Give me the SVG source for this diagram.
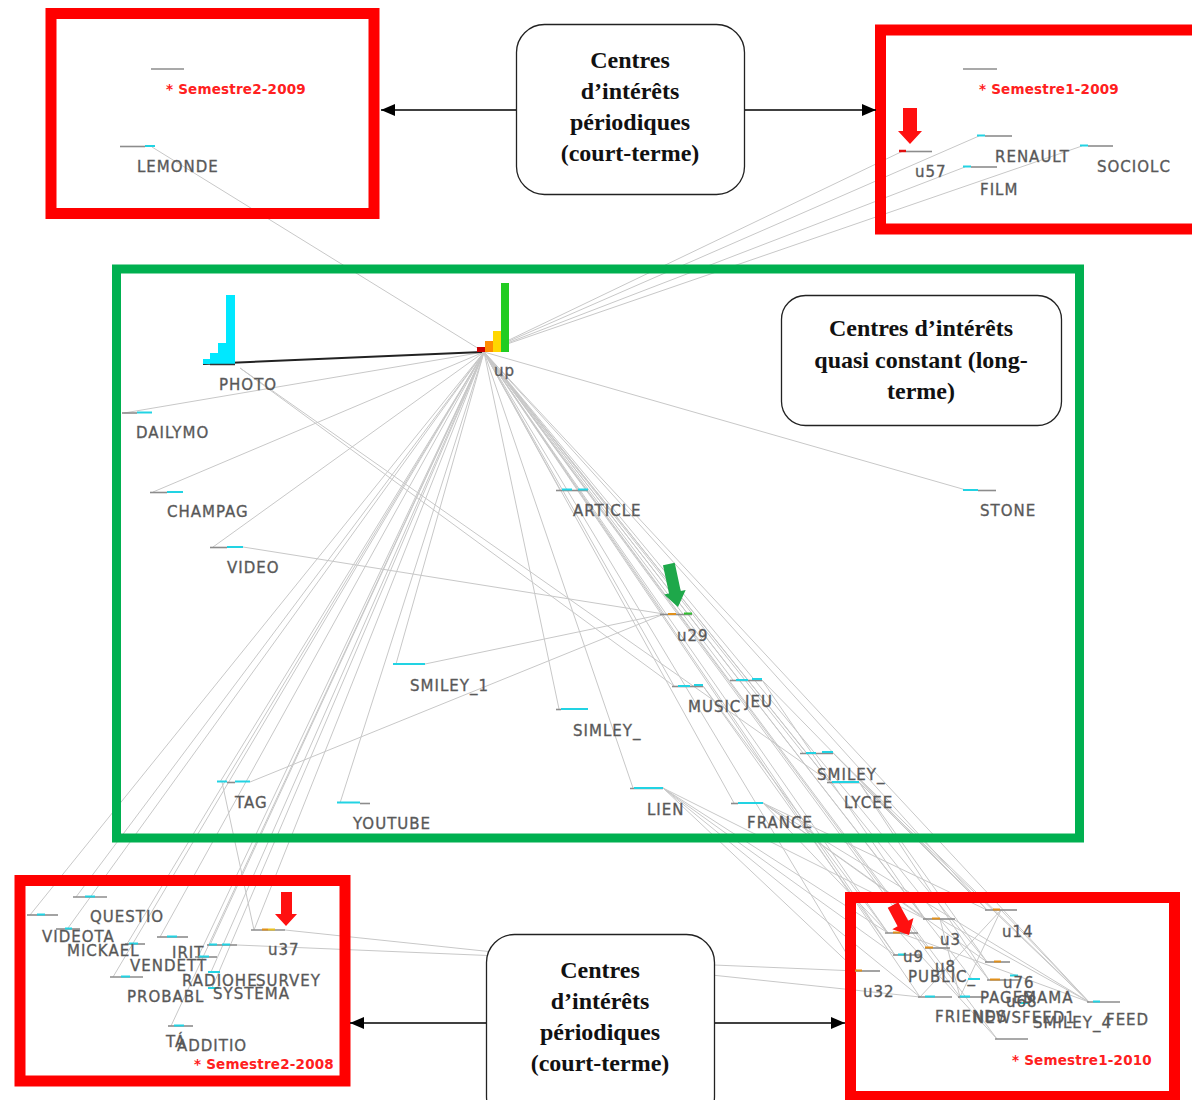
<svg xmlns="http://www.w3.org/2000/svg" width="1192" height="1100" viewBox="0 0 1192 1100">
<style>
.e{stroke:#c8c8c8;stroke-width:1;fill:none}
.lbl{font-family:"DejaVu Sans",sans-serif;font-size:15px;fill:#555;stroke:#666;stroke-width:0.35;letter-spacing:1px}
.sem{font-family:"DejaVu Sans",sans-serif;font-size:13.5px;font-weight:bold;fill:#ff2020;letter-spacing:0.2px}
.co{font-family:"Liberation Serif","Times New Roman",serif;font-weight:bold;font-size:24px;fill:#111;text-anchor:middle}
.frR{fill:none;stroke:#ff0000;stroke-width:11}
.frG{fill:none;stroke:#00b050;stroke-width:9}
.call{fill:#fff;stroke:#222;stroke-width:1.3}
.mg{stroke:#8c8c8c;stroke-width:1.6}
.mc{stroke:#22d3e3;stroke-width:2}
.mo{stroke:#e0901c;stroke-width:2}
.ar{stroke:#000;stroke-width:1.6;fill:none}
</style>
<defs>
<marker id="ah" viewBox="0 0 14 12" refX="14" refY="6" markerWidth="14" markerHeight="12" markerUnits="userSpaceOnUse" orient="auto"><path d="M0,0 L14,6 L0,12 z" fill="#000"/></marker>
</defs>
<rect width="1192" height="1100" fill="#fff"/>
<g id="connectors">
<line class="e" x1="484" y1="352" x2="152" y2="147"/>
<line class="e" x1="484" y1="352" x2="903" y2="151"/>
<line class="e" x1="484" y1="352" x2="979" y2="136"/>
<line class="e" x1="484" y1="352" x2="965" y2="167"/>
<line class="e" x1="484" y1="352" x2="1082" y2="146"/>
<line class="e" x1="484" y1="352" x2="124" y2="413"/>
<line class="e" x1="484" y1="352" x2="153" y2="492"/>
<line class="e" x1="484" y1="352" x2="213" y2="547"/>
<line class="e" x1="484" y1="352" x2="966" y2="490"/>
<line class="e" x1="484" y1="352" x2="560" y2="490"/>
<line class="e" x1="484" y1="352" x2="559" y2="709"/>
<line class="e" x1="484" y1="352" x2="633" y2="788"/>
<line class="e" x1="484" y1="352" x2="734" y2="803"/>
<line class="e" x1="484" y1="352" x2="674" y2="686"/>
<line class="e" x1="484" y1="352" x2="733" y2="680"/>
<line class="e" x1="484" y1="352" x2="803" y2="753"/>
<line class="e" x1="484" y1="352" x2="830" y2="782"/>
<line class="e" x1="484" y1="352" x2="396" y2="664"/>
<line class="e" x1="484" y1="352" x2="220" y2="782"/>
<line class="e" x1="484" y1="352" x2="340" y2="803"/>
<line class="e" x1="484" y1="352" x2="664" y2="614"/>
<line class="e" x1="484" y1="352" x2="76" y2="897"/>
<line class="e" x1="484" y1="352" x2="30" y2="915"/>
<line class="e" x1="484" y1="352" x2="68" y2="928"/>
<line class="e" x1="484" y1="352" x2="127" y2="944"/>
<line class="e" x1="484" y1="352" x2="160" y2="937"/>
<line class="e" x1="484" y1="352" x2="113" y2="977"/>
<line class="e" x1="484" y1="352" x2="210" y2="945"/>
<line class="e" x1="484" y1="352" x2="198" y2="957"/>
<line class="e" x1="484" y1="352" x2="211" y2="972"/>
<line class="e" x1="484" y1="352" x2="212" y2="988"/>
<line class="e" x1="484" y1="352" x2="171" y2="1026"/>
<line class="e" x1="484" y1="352" x2="254" y2="930"/>
<line class="e" x1="484" y1="352" x2="888" y2="933"/>
<line class="e" x1="484" y1="352" x2="925" y2="919"/>
<line class="e" x1="484" y1="352" x2="987" y2="910"/>
<line class="e" x1="484" y1="352" x2="927" y2="948"/>
<line class="e" x1="484" y1="352" x2="895" y2="955"/>
<line class="e" x1="484" y1="352" x2="857" y2="971"/>
<line class="e" x1="484" y1="352" x2="987" y2="962"/>
<line class="e" x1="484" y1="352" x2="972" y2="979"/>
<line class="e" x1="484" y1="352" x2="989" y2="980"/>
<line class="e" x1="484" y1="352" x2="920" y2="997"/>
<line class="e" x1="484" y1="352" x2="960" y2="997"/>
<line class="e" x1="484" y1="352" x2="1089" y2="1002"/>
<line class="e" x1="484" y1="352" x2="997" y2="1039"/>
<line class="e" x1="240" y1="368" x2="674" y2="686"/>
<line class="e" x1="240" y1="368" x2="830" y2="782"/>
<line class="e" x1="250" y1="782" x2="664" y2="614"/>
<line class="e" x1="425" y1="664" x2="664" y2="614"/>
<line class="e" x1="243" y1="547" x2="664" y2="614"/>
<line class="e" x1="663" y1="788" x2="888" y2="933"/>
<line class="e" x1="663" y1="788" x2="925" y2="919"/>
<line class="e" x1="663" y1="788" x2="895" y2="955"/>
<line class="e" x1="663" y1="788" x2="857" y2="971"/>
<line class="e" x1="663" y1="788" x2="920" y2="997"/>
<line class="e" x1="763" y1="803" x2="888" y2="933"/>
<line class="e" x1="763" y1="803" x2="925" y2="919"/>
<line class="e" x1="763" y1="803" x2="987" y2="910"/>
<line class="e" x1="763" y1="803" x2="987" y2="962"/>
<line class="e" x1="763" y1="803" x2="1089" y2="1002"/>
<line class="e" x1="859" y1="782" x2="987" y2="910"/>
<line class="e" x1="859" y1="782" x2="987" y2="962"/>
<line class="e" x1="859" y1="782" x2="1089" y2="1002"/>
<line class="e" x1="859" y1="782" x2="989" y2="980"/>
<line class="e" x1="833" y1="753" x2="987" y2="910"/>
<line class="e" x1="833" y1="753" x2="1089" y2="1002"/>
<line class="e" x1="762" y1="680" x2="925" y2="919"/>
<line class="e" x1="762" y1="680" x2="987" y2="910"/>
<line class="e" x1="703" y1="686" x2="888" y2="933"/>
<line class="e" x1="703" y1="686" x2="895" y2="955"/>
<line class="e" x1="1001" y1="910" x2="920" y2="997"/>
<line class="e" x1="1001" y1="910" x2="960" y2="997"/>
<line class="e" x1="1001" y1="910" x2="1089" y2="1002"/>
<line class="e" x1="940" y1="919" x2="1089" y2="1002"/>
<line class="e" x1="940" y1="919" x2="960" y2="997"/>
<line class="e" x1="900" y1="933" x2="1089" y2="1002"/>
<line class="e" x1="900" y1="933" x2="997" y2="1039"/>
<line class="e" x1="237" y1="945" x2="857" y2="971"/>
<line class="e" x1="285" y1="930" x2="920" y2="997"/>
<line class="e" x1="254" y1="930" x2="222" y2="782"/>
<line x1="203" y1="364" x2="482" y2="352" stroke="#222" stroke-width="2"/>
</g>
<g id="frames">
<rect class="frR" x="51" y="13.5" width="323" height="200"/>
<rect class="frR" x="880.5" y="30" width="330" height="199"/>
<rect class="frG" x="116.5" y="269" width="963" height="569"/>
<rect class="frR" x="20" y="880.5" width="325" height="200.5"/>
<rect class="frR" x="850.5" y="897.5" width="324" height="199"/>
</g>
<g id="n-sem2-2009"><line class="mg" x1="151" y1="69" x2="184" y2="69"/><text class="sem" x="166" y="94">* Semestre2-2009</text></g>
<g id="n-lemonde"><line class="mg" x1="120" y1="146.5" x2="145" y2="146.5"/><line class="mc" x1="145" y1="146" x2="155" y2="146"/><text class="lbl" x="137" y="172">LEMONDE</text></g>
<g id="n-sem1-2009"><line class="mg" x1="963" y1="69" x2="997" y2="69"/><text class="sem" x="979" y="94">* Semestre1-2009</text></g>
<g id="n-u57"><line x1="899" y1="151" x2="906" y2="151" stroke="#e01010" stroke-width="2.5"/><line class="mg" x1="906" y1="151.5" x2="932" y2="151.5"/><text class="lbl" x="915" y="177">u57</text></g>
<g id="n-renault"><line class="mc" x1="977" y1="135.5" x2="985" y2="135.5"/><line class="mg" x1="985" y1="136" x2="1012" y2="136"/><text class="lbl" x="995" y="162">RENAULT</text></g>
<g id="n-film"><line class="mc" x1="963" y1="166.5" x2="971" y2="166.5"/><line class="mg" x1="971" y1="167" x2="997" y2="167"/><text class="lbl" x="980" y="195">FILM</text></g>
<g id="n-sociolc"><line class="mc" x1="1080" y1="145.5" x2="1088" y2="145.5"/><line class="mg" x1="1088" y1="146" x2="1113" y2="146"/><text class="lbl" x="1097" y="172">SOCIOLC</text></g>
<g id="n-photo">
<rect x="203" y="359" width="7" height="5" fill="#00e8ff"/>
<rect x="210" y="353" width="8" height="11" fill="#00e8ff"/>
<rect x="218" y="343" width="8" height="21" fill="#00e8ff"/>
<rect x="226" y="295" width="9" height="69" fill="#00e8ff"/>
<line x1="210" y1="364.5" x2="235" y2="364.5" stroke="#333" stroke-width="1.5"/>
<text class="lbl" x="219" y="390">PHOTO</text></g>
<g id="n-up">
<rect x="477" y="347" width="8" height="5" fill="#cc0000"/>
<rect x="485" y="341" width="8" height="11" fill="#ff8c00"/>
<rect x="493" y="331" width="8" height="21" fill="#ffd700"/>
<rect x="501" y="283" width="8" height="69" fill="#22cc22"/>
<text class="lbl" x="494" y="376">up</text></g>
<g id="n-dailymo"><line class="mg" x1="122" y1="413" x2="137" y2="413"/><line class="mc" x1="137" y1="412.5" x2="152" y2="412.5"/><text class="lbl" x="136" y="438">DAILYMO</text></g>
<g id="n-champag"><line class="mg" x1="150" y1="492.5" x2="167" y2="492.5"/><line class="mc" x1="167" y1="492" x2="183" y2="492"/><text class="lbl" x="167" y="517">CHAMPAG</text></g>
<g id="n-video"><line class="mg" x1="210" y1="547.5" x2="227" y2="547.5"/><line class="mc" x1="227" y1="547" x2="243" y2="547"/><text class="lbl" x="227" y="573">VIDEO</text></g>
<g id="n-article"><line class="mg" x1="556" y1="490.5" x2="588" y2="490.5"/><line class="mc" x1="562" y1="489.5" x2="572" y2="489.5"/><line class="mc" x1="578" y1="489.5" x2="588" y2="489.5"/><text class="lbl" x="573" y="516">ARTICLE</text></g>
<g id="n-stone"><line class="mc" x1="963" y1="490" x2="978" y2="490"/><line class="mg" x1="978" y1="490.5" x2="996" y2="490.5"/><text class="lbl" x="980" y="516">STONE</text></g>
<g id="n-u29"><line class="mg" x1="660" y1="614.5" x2="692" y2="614.5"/><line class="mo" x1="668" y1="614" x2="676" y2="614"/><line x1="684" y1="613.5" x2="692" y2="613.5" stroke="#30c030" stroke-width="2"/><text class="lbl" x="677" y="641">u29</text></g>
<g id="n-smiley1"><line class="mc" x1="393" y1="664" x2="425" y2="664"/><text class="lbl" x="410" y="691">SMILEY_1</text></g>
<g id="n-music"><line class="mg" x1="672" y1="686.5" x2="703" y2="686.5"/><line class="mc" x1="678" y1="686" x2="690" y2="686"/><line class="mc" x1="694" y1="685" x2="703" y2="685"/><text class="lbl" x="688" y="712">MUSIC</text></g>
<g id="n-jeu"><line class="mg" x1="730" y1="680.5" x2="762" y2="680.5"/><line class="mc" x1="736" y1="680" x2="748" y2="680"/><line class="mc" x1="752" y1="679" x2="762" y2="679"/><text class="lbl" x="745" y="707">JEU</text></g>
<g id="n-simley"><line class="mg" x1="556" y1="709.5" x2="561" y2="709.5"/><line class="mc" x1="561" y1="709" x2="588" y2="709"/><text class="lbl" x="573" y="736">SIMLEY_</text></g>
<g id="n-smiley-r"><line class="mg" x1="800" y1="753.5" x2="833" y2="753.5"/><line class="mc" x1="806" y1="753" x2="816" y2="753"/><line class="mc" x1="822" y1="752" x2="833" y2="752"/><text class="lbl" x="817" y="780">SMILEY_</text></g>
<g id="n-lycee"><line class="mg" x1="827" y1="782.5" x2="859" y2="782.5"/><line class="mc" x1="832" y1="782" x2="859" y2="782"/><text class="lbl" x="844" y="808">LYCEE</text></g>
<g id="n-tag"><line class="mc" x1="217" y1="781.5" x2="227" y2="781.5"/><line class="mg" x1="227" y1="782.5" x2="235" y2="782.5"/><line class="mc" x1="235" y1="781.5" x2="250" y2="781.5"/><text class="lbl" x="235" y="808">TAG</text></g>
<g id="n-youtube"><line class="mc" x1="337" y1="802.5" x2="360" y2="802.5"/><line class="mg" x1="360" y1="803.5" x2="370" y2="803.5"/><text class="lbl" x="353" y="829">YOUTUBE</text></g>
<g id="n-lien"><line class="mg" x1="630" y1="788.5" x2="663" y2="788.5"/><line class="mc" x1="634" y1="788" x2="663" y2="788"/><text class="lbl" x="647" y="815">LIEN</text></g>
<g id="n-france"><line class="mg" x1="731" y1="803.5" x2="738" y2="803.5"/><line class="mc" x1="738" y1="803" x2="763" y2="803"/><text class="lbl" x="747" y="828">FRANCE</text></g>
<g id="n-questio"><line class="mg" x1="73" y1="897" x2="107" y2="897"/><line class="mc" x1="85" y1="896.5" x2="95" y2="896.5"/><text class="lbl" x="90" y="922">QUESTIO</text></g>
<g id="n-videota"><line class="mg" x1="27" y1="915" x2="58" y2="915"/><line class="mc" x1="37" y1="914.5" x2="45" y2="914.5"/><line class="mg" x1="56" y1="929" x2="80" y2="929"/><line class="mc" x1="65" y1="928.5" x2="72" y2="928.5"/><text class="lbl" x="42" y="942">VIDEOTA</text></g>
<g id="n-mickael"><line class="mg" x1="125" y1="944" x2="145" y2="944"/><line class="mc" x1="129" y1="943.5" x2="138" y2="943.5"/><text class="lbl" x="67" y="956">MICKAEL</text></g>
<g id="n-irit"><line class="mg" x1="157" y1="937" x2="188" y2="937"/><line class="mc" x1="167" y1="936.5" x2="177" y2="936.5"/><text class="lbl" x="172" y="958">IRIT</text></g>
<g id="n-vendett"><text class="lbl" x="130" y="971">VENDETT</text></g>
<g id="n-probabl"><line class="mg" x1="110" y1="977" x2="143" y2="977"/><line class="mc" x1="121" y1="976.5" x2="130" y2="976.5"/><text class="lbl" x="127" y="1002">PROBABL</text></g>
<g id="n-bl-marks"><line class="mg" x1="207" y1="945" x2="237" y2="945"/><line class="mc" x1="209" y1="944.5" x2="217" y2="944.5"/><line class="mc" x1="222" y1="944.5" x2="230" y2="944.5"/><line class="mg" x1="195" y1="957" x2="217" y2="957"/><line class="mc" x1="199" y1="956.5" x2="209" y2="956.5"/><line class="mc" x1="208" y1="972" x2="220" y2="972"/><line class="mc" x1="208" y1="988" x2="219" y2="988"/></g>
<g id="n-radiohe"><text class="lbl" x="182" y="986">RADIOHE</text></g>
<g id="n-survey"><text class="lbl" x="256" y="986">SURVEY</text></g>
<g id="n-systema"><text class="lbl" x="213" y="999">SYSTEMA</text></g>
<g id="n-additio"><line class="mg" x1="168" y1="1026" x2="193" y2="1026"/><line class="mc" x1="174" y1="1025.5" x2="184" y2="1025.5"/><text class="lbl" x="166" y="1047">TÁ</text><text class="lbl" x="177" y="1051">ADDITIO</text></g>
<g id="n-u37"><line class="mg" x1="251" y1="930" x2="285" y2="930"/><line class="mo" x1="262" y1="929.5" x2="268" y2="929.5"/><line x1="268" y1="929.5" x2="275" y2="929.5" stroke="#e8c020" stroke-width="2"/><text class="lbl" x="268" y="955">u37</text></g>
<g id="n-sem2-2008"><text class="sem" x="194" y="1069">* Semestre2-2008</text></g>
<g id="n-r1"><line class="mg" x1="885" y1="933" x2="918" y2="933"/><line class="mo" x1="893" y1="932.5" x2="900" y2="932.5"/></g>
<g id="n-u3"><line class="mg" x1="923" y1="919" x2="955" y2="919"/><line class="mo" x1="932" y1="918.5" x2="940" y2="918.5"/><line class="mg" x1="925" y1="948" x2="950" y2="948"/><line class="mo" x1="925" y1="947.5" x2="933" y2="947.5"/><text class="lbl" x="940" y="945">u3</text></g>
<g id="n-u14"><line class="mg" x1="985" y1="910" x2="1017" y2="910"/><line class="mo" x1="993" y1="909.5" x2="1000" y2="909.5"/><text class="lbl" x="1002" y="937">u14</text></g>
<g id="n-u9"><line class="mg" x1="893" y1="955" x2="920" y2="955"/><line class="mc" x1="898" y1="954.5" x2="906" y2="954.5"/><text class="lbl" x="903" y="962">u9</text></g>
<g id="n-u8"><text class="lbl" x="935" y="972">u8</text></g>
<g id="n-public"><text class="lbl" x="908" y="982">PUBLIC_</text></g>
<g id="n-u32"><line class="mg" x1="855" y1="971" x2="880" y2="971"/><line class="mo" x1="855" y1="970.5" x2="862" y2="970.5"/><text class="lbl" x="863" y="997">u32</text></g>
<g id="n-u76"><line class="mg" x1="985" y1="962" x2="1010" y2="962"/><line class="mo" x1="994" y1="961.5" x2="1001" y2="961.5"/><line class="mc" x1="968" y1="979" x2="980" y2="979"/><line class="mg" x1="987" y1="980" x2="1020" y2="980"/><line class="mo" x1="990" y1="979.5" x2="1000" y2="979.5"/><line class="mc" x1="1010" y1="975.5" x2="1018" y2="975.5"/><text class="lbl" x="1003" y="988">u76</text></g>
<g id="n-br-marks"><line class="mg" x1="918" y1="997" x2="952" y2="997"/><line class="mc" x1="925" y1="996.5" x2="935" y2="996.5"/><line class="mg" x1="958" y1="997" x2="985" y2="997"/><line class="mc" x1="960" y1="996.5" x2="970" y2="996.5"/><line class="mg" x1="1087" y1="1002" x2="1120" y2="1002"/><line class="mc" x1="1093" y1="1001.5" x2="1100" y2="1001.5"/><line class="mc" x1="1020" y1="1003" x2="1028" y2="1003"/><line class="mg" x1="995" y1="1039" x2="1028" y2="1039"/></g>
<g id="n-pages"><text class="lbl" x="980" y="1003">PAGES</text></g>
<g id="n-u68"><text class="lbl" x="1006" y="1007">u68</text></g>
<g id="n-mama"><text class="lbl" x="1023" y="1003">MAMA</text></g>
<g id="n-friends"><text class="lbl" x="935" y="1022">FRIENDS</text></g>
<g id="n-newsfeed1"><text class="lbl" x="973" y="1023">NEWSFEED1</text></g>
<g id="n-smiley4"><text class="lbl" x="1033" y="1028">SMILEY_4</text></g>
<g id="n-feed"><text class="lbl" x="1106" y="1025">FEED</text></g>
<g id="n-sem1-2010"><text class="sem" x="1012" y="1065">* Semestre1-2010</text></g>
<g id="markers">
<polygon points="903,108 917,108 917,131 922,131 910,144 898,131 903,131" fill="#ff1010"/>
<polygon points="281,892 292,892 292,914 297,914 286,926 275,914 281,914" fill="#ff1010"/>
<polygon transform="translate(909,935) rotate(-28)" points="-6,-34 6,-34 6,-13 12,-13 0,0 -12,-13 -6,-13" fill="#ff1010"/>
<polygon transform="translate(678,607) rotate(-12)" points="-6,-44 6,-44 6,-15 11,-15 0,0 -11,-15 -6,-15" fill="#1ea84a"/>
</g>
<g id="callout-top">
<rect class="call" x="516.5" y="24.5" width="228" height="170" rx="28"/>
<text class="co" x="630" y="68">Centres</text>
<text class="co" x="630" y="99">d’intérêts</text>
<text class="co" x="630" y="130">périodiques</text>
<text class="co" x="630" y="161">(court-terme)</text>
</g>
<g id="callout-right">
<rect class="call" x="781.5" y="295.5" width="280" height="130" rx="24"/>
<text class="co" x="921" y="336">Centres d’intérêts</text>
<text class="co" x="921" y="368">quasi constant (long-</text>
<text class="co" x="921" y="399">terme)</text>
</g>
<g id="callout-bottom">
<rect class="call" x="486.5" y="934.5" width="228" height="190" rx="28"/>
<text class="co" x="600" y="978">Centres</text>
<text class="co" x="600" y="1009">d’intérêts</text>
<text class="co" x="600" y="1040">périodiques</text>
<text class="co" x="600" y="1071">(court-terme)</text>
</g>
<g id="arrows">
<line class="ar" x1="516" y1="110" x2="381" y2="110" marker-end="url(#ah)"/>
<line class="ar" x1="745" y1="110" x2="876" y2="110" marker-end="url(#ah)"/>
<line class="ar" x1="486" y1="1023" x2="350" y2="1023" marker-end="url(#ah)"/>
<line class="ar" x1="715" y1="1023" x2="845" y2="1023" marker-end="url(#ah)"/>
</g>
</svg>
